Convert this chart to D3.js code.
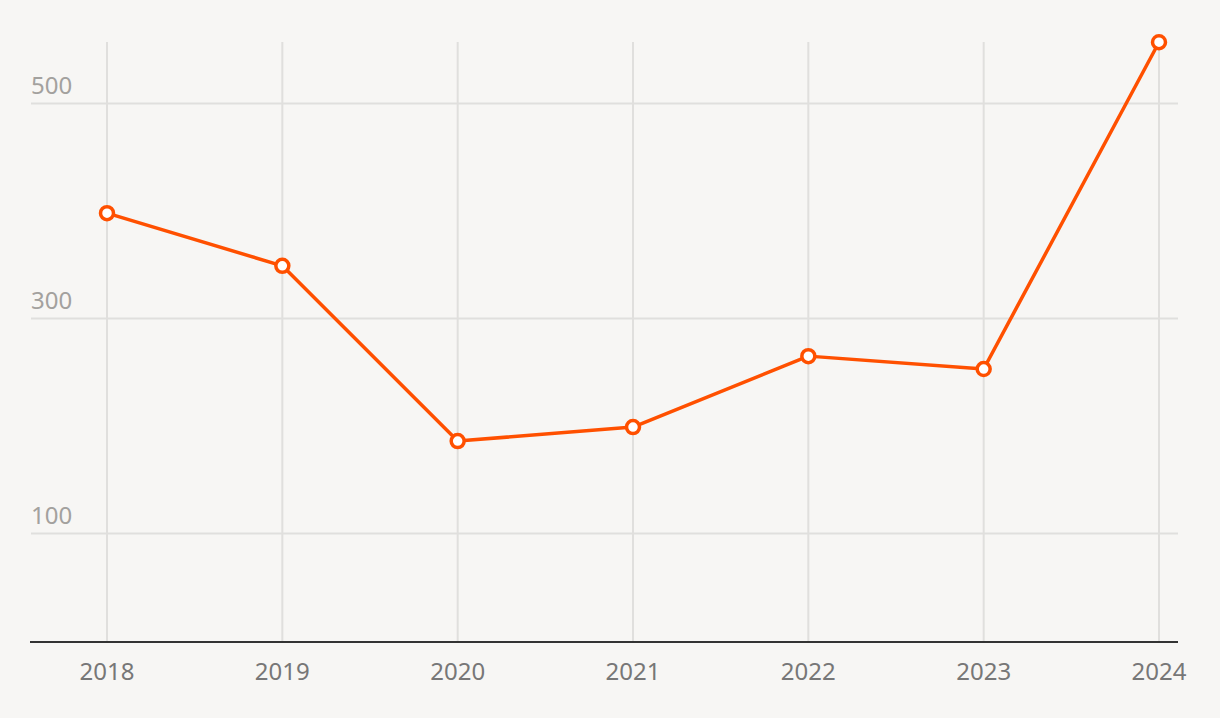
<!DOCTYPE html>
<html>
<head>
<meta charset="utf-8">
<script src="https://cdn.jsdelivr.net/npm/d3@7"></script>
<style>
  body { margin: 0; background: #f7f6f4; }
  svg { display: block; font-family: "Noto Sans", "Open Sans", sans-serif; }
</style>
</head>
<body>
<div id="chart"></div>
<script>
var width = 1220,
    height = 718;

// data
var years = [2018, 2019, 2020, 2021, 2022, 2023, 2024];
var values = [398, 349, 186, 199, 265, 253, 557];
var yTicks = [100, 300, 500];

var margin = {left: 31, right: 42, top: 42, bottom: 77};

var x = d3.scalePoint()
    .domain(years)
    .range([107, 1159]);

var y = d3.scaleLinear()
    .domain([0, 500])
    .range([height - margin.bottom, 103.5]);

var svg = d3.select("#chart").append("svg")
    .attr("width", width)
    .attr("height", height);

svg.append("rect")
    .attr("width", width)
    .attr("height", height)
    .attr("fill", "#f7f6f4");

// vertical grid
svg.append("g").selectAll("line")
    .data(years)
  .enter().append("line")
    .attr("x1", function(d) { return x(d); })
    .attr("x2", function(d) { return x(d); })
    .attr("y1", margin.top)
    .attr("y2", y(0))
    .attr("stroke", "#e0dfdd")
    .attr("stroke-width", 2);

// horizontal grid + labels
var yg = svg.append("g");
yg.selectAll("line")
    .data(yTicks)
  .enter().append("line")
    .attr("x1", margin.left)
    .attr("x2", width - margin.right)
    .attr("y1", function(d) { return y(d); })
    .attr("y2", function(d) { return y(d); })
    .attr("stroke", "#e0dfdd")
    .attr("stroke-width", 2);

yg.selectAll("text")
    .data(yTicks)
  .enter().append("text")
    .attr("x", margin.left)
    .attr("y", function(d) { return y(d) - 10; })
    .attr("fill", "#a3a19e")
    .style("font-size", "24px")
    .text(function(d) { return d; });

// baseline
svg.append("line")
    .attr("x1", margin.left - 1)
    .attr("x2", width - margin.right)
    .attr("y1", y(0) + 1)
    .attr("y2", y(0) + 1)
    .attr("stroke", "#333")
    .attr("stroke-width", 2);

// x labels
svg.append("g").selectAll("text")
    .data(years)
  .enter().append("text")
    .attr("x", function(d) { return x(d); })
    .attr("y", 680)
    .attr("text-anchor", "middle")
    .attr("fill", "#777")
    .style("font-size", "24px")
    .text(function(d) { return d; });

var pts = years.map(function(d, i) { return {year: d, value: values[i]}; });

var line = d3.line()
    .x(function(d) { return x(d.year); })
    .y(function(d) { return y(d.value); });

svg.append("path")
    .datum(pts)
    .attr("d", line)
    .attr("fill", "none")
    .attr("stroke", "#ff5000")
    .attr("stroke-width", 3.5)
    .attr("stroke-linejoin", "round");

svg.append("g").selectAll("circle")
    .data(pts)
  .enter().append("circle")
    .attr("cx", function(d) { return x(d.year); })
    .attr("cy", function(d) { return y(d.value); })
    .attr("r", 6.5)
    .attr("fill", "#fff")
    .attr("stroke", "#ff5000")
    .attr("stroke-width", 3.5);
</script>
</body>
</html>
